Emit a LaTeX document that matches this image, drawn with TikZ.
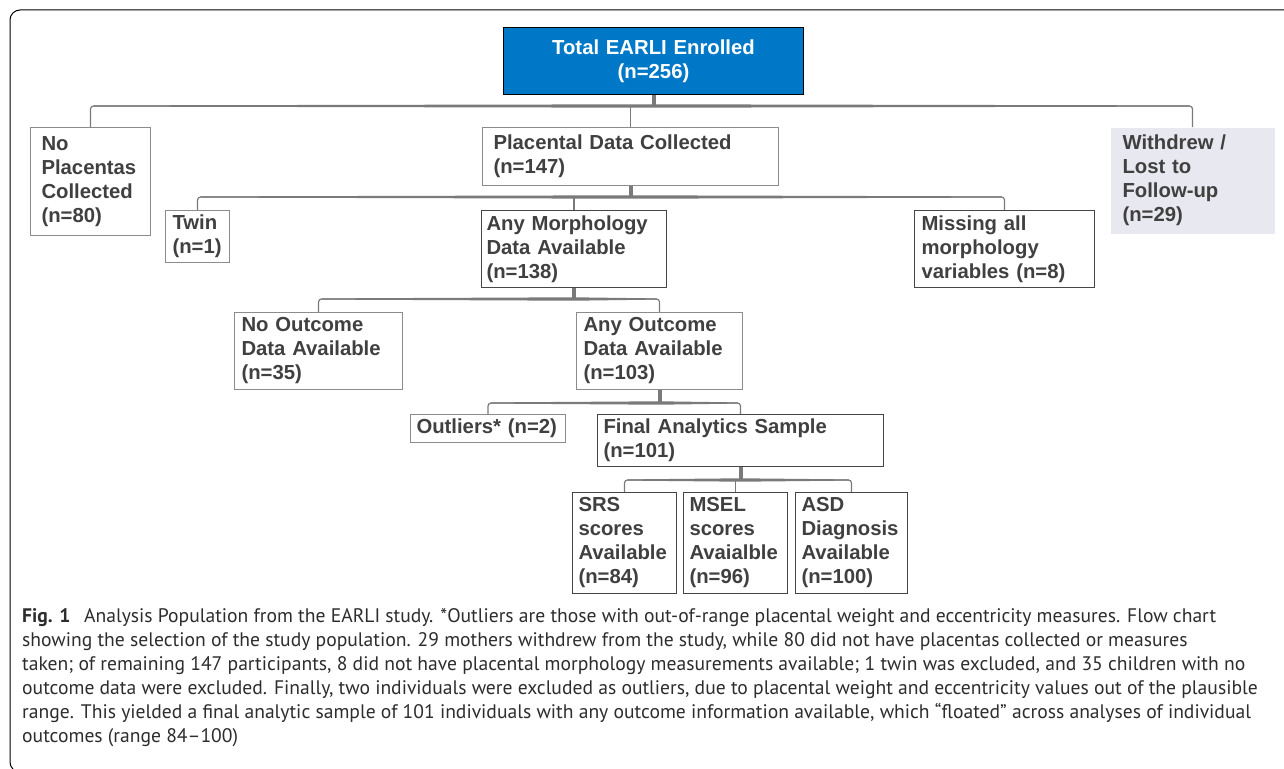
\documentclass[tikz,border=0pt]{standalone}
\usepackage{fontspec}
\setmainfont{Liberation Sans}
\newfontfamily\capfont{PT Sans}
\usetikzlibrary{calc}
\definecolor{blu}{RGB}{0,120,200}
\definecolor{txt}{RGB}{64,64,64}
\definecolor{conncol}{RGB}{122,122,122}
\definecolor{lbord}{RGB}{140,140,140}
\definecolor{dbord}{RGB}{70,70,70}
\definecolor{wfill}{RGB}{232,232,240}
\definecolor{captxt}{RGB}{45,45,45}
\newcommand\myboxfont{\bfseries\fontsize{20.3}{24}\selectfont\hyphenpenalty=10000\exhyphenpenalty=10000}
\newcommand\mycapfont{\capfont\fontsize{19.6}{24}\selectfont}
% tapered horizontal bar: #1 left point, #2 centre, #3 right point
\newcommand\taper[3]{%
  \fill[conncol] ($(#1)+(0,-0.6)$) -- ($(#2)+(0,-1.7)$) -- ($(#3)+(0,-0.6)$)
    -- ($(#3)+(0,0.6)$) -- ($(#2)+(0,1.7)$) -- ($(#1)+(0,0.6)$) -- cycle;}
\begin{document}
\begin{tikzpicture}[x=1pt,y=-1pt,
  box/.style={draw=lbord, line width=1pt, fill=white, anchor=north west, align=left,
    inner xsep=7pt, inner ysep=0pt, text=txt, font=\myboxfont},
  dbox/.style={box, draw=dbord},
  conn/.style={draw=conncol, line width=1.2pt, rounded corners=3pt},
  stem/.style={draw=conncol, line width=4pt},
  capline/.style={anchor=base west, inner sep=0pt, text=captxt, font=\mycapfont}
]
\useasboundingbox (0,0) rectangle (1284,768);
\fill[white] (0,0) rectangle (1284,768);
\clip (0,0) rectangle (1284,768);
\draw[black, line width=1pt, rounded corners=10pt] (1300,772) -- (10,772) -- (10,10) -- (1300,10);

% boxes
\node[box, draw=black, fill=blu, text=white, align=center, text width=286pt, minimum height=67pt] (top) at (503,27) {Total EARLI Enrolled\\(n=256)};
\node[box, inner xsep=11pt, text width=98pt, minimum height=108pt] (nop) at (30,127) {No\\Placentas\\Collected\\(n=80)};
\node[box, inner xsep=11pt, text width=274pt, minimum height=58pt] (plac) at (482,127) {Placental~Data~Collected\\(n=147)};
\node[box, draw=none, fill=wfill, inner xsep=12pt, text width=140pt, minimum height=106pt] (wd) at (1110,127) {Withdrew~/\\Lost~to\\Follow-up\\(n=29)};
\node[box, text width=50pt, minimum height=52pt] (twin) at (165,210) {Twin\\(n=1)};
\node[dbox, inner xsep=5pt, text width=175pt, minimum height=77pt] (morph) at (481,210) {Any~Morphology\\Data~Available\\(n=138)};
\node[dbox, text width=166pt, minimum height=77pt] (miss) at (914,210) {Missing~all\\morphology\\variables~(n=8)};
\node[box, text width=154pt, minimum height=77pt] (noout) at (234,312) {No~Outcome\\Data~Available\\(n=35)};
\node[box, text width=152pt, minimum height=77pt] (anyout) at (576,312) {Any~Outcome\\Data~Available\\(n=103)};
\node[box, inner xsep=6pt, text width=143pt, minimum height=28pt] (outl) at (410,414) {Outliers*~(n=2)};
\node[dbox, inner xsep=6pt, text width=274pt, minimum height=52pt] (final) at (597,414) {Final~Analytics~Sample\\(n=101)};
\node[dbox, inner xsep=6pt, text width=92pt, minimum height=101pt] (srs) at (572,492) {SRS\\scores\\Available\\(n=84)};
\node[dbox, inner xsep=6pt, text width=92pt, minimum height=101pt] (msel) at (683,492) {MSEL\\scores\\Avaialble\\(n=96)};
\node[dbox, inner xsep=6pt, text width=100pt, minimum height=101pt] (asd) at (795,492) {ASD\\Diagnosis\\Available\\(n=100)};

% level 1 connectors
\coordinate (h1) at (top.south |- 0,106);
\coordinate (h1l) at ($(nop.north |- h1)+(3,0)$);
\coordinate (h1r) at ($(wd.north |- h1)+(-3,0)$);
\draw[conn] (nop.north) -- (nop.north |- h1) -- (wd.north |- h1) -- (wd.north);
\draw[conn] (plac.north |- h1) -- (plac.north);
\taper{h1l}{h1}{h1r}
\draw[stem] (top.south) -- (h1);

% level 2
\coordinate (h2) at (plac.south |- 0,197);
\coordinate (h2l) at ($(twin.north |- h2)+(3,0)$);
\coordinate (h2r) at ($(miss.north |- h2)+(-3,0)$);
\draw[conn] (twin.north) -- (twin.north |- h2) -- (miss.north |- h2) -- (miss.north);
\draw[conn] (morph.north |- h2) -- (morph.north);
\taper{h2l}{h2}{h2r}
\draw[stem] (plac.south) -- (h2);

% level 3
\coordinate (h3) at (morph.south |- 0,299);
\coordinate (h3l) at ($(noout.north |- h3)+(3,0)$);
\coordinate (h3r) at ($(anyout.north |- h3)+(-3,0)$);
\draw[conn] (noout.north) -- (noout.north |- h3) -- (anyout.north |- h3) -- (anyout.north);
\taper{h3l}{h3}{h3r}
\draw[stem] (morph.south) -- (h3);

% level 4
\coordinate (h4) at (anyout.south |- 0,403);
\coordinate (h4l) at ($(outl.north |- h4)+(3,0)$);
\coordinate (h4r) at ($(final.north |- h4)+(-3,0)$);
\draw[conn] (outl.north) -- (outl.north |- h4) -- (final.north |- h4) -- (final.north);
\taper{h4l}{h4}{h4r}
\draw[stem] (anyout.south) -- (h4);

% level 5
\coordinate (h5) at (final.south |- 0,480);
\coordinate (h5l) at ($(srs.north |- h5)+(3,0)$);
\coordinate (h5r) at ($(asd.north |- h5)+(-3,0)$);
\draw[conn] (srs.north) -- (srs.north |- h5) -- (asd.north |- h5) -- (asd.north);
\draw[conn] (msel.north |- h5) -- (msel.north);
\taper{h5l}{h5}{h5r}
\draw[stem] (final.south) -- (h5);

% caption
\node[capline] (cap1) at (22,622) {\textbf{Fig. 1}\hspace{0.7em}Analysis Population from the EARLI study. *Outliers are those with out-of-range placental weight and eccentricity measures. Flow chart};
\node[capline] (cap2) at (22,646) {showing the selection of the study population. 29 mothers withdrew from the study, while 80 did not have placentas collected or measures};
\node[capline] (cap3) at (22,670) {taken; of remaining 147 participants, 8 did not have placental morphology measurements available; 1 twin was excluded, and 35 children with no};
\node[capline] (cap4) at (22,694) {outcome data were excluded. Finally, two individuals were excluded as outliers, due to placental weight and eccentricity values out of the plausible};
\node[capline] (cap5) at (22,718) {range. This yielded a final analytic sample of 101 individuals with any outcome information available, which “floated” across analyses of individual};
\node[capline] (cap6) at (22,742) {outcomes (range 84–100)};
\end{tikzpicture}
\end{document}
